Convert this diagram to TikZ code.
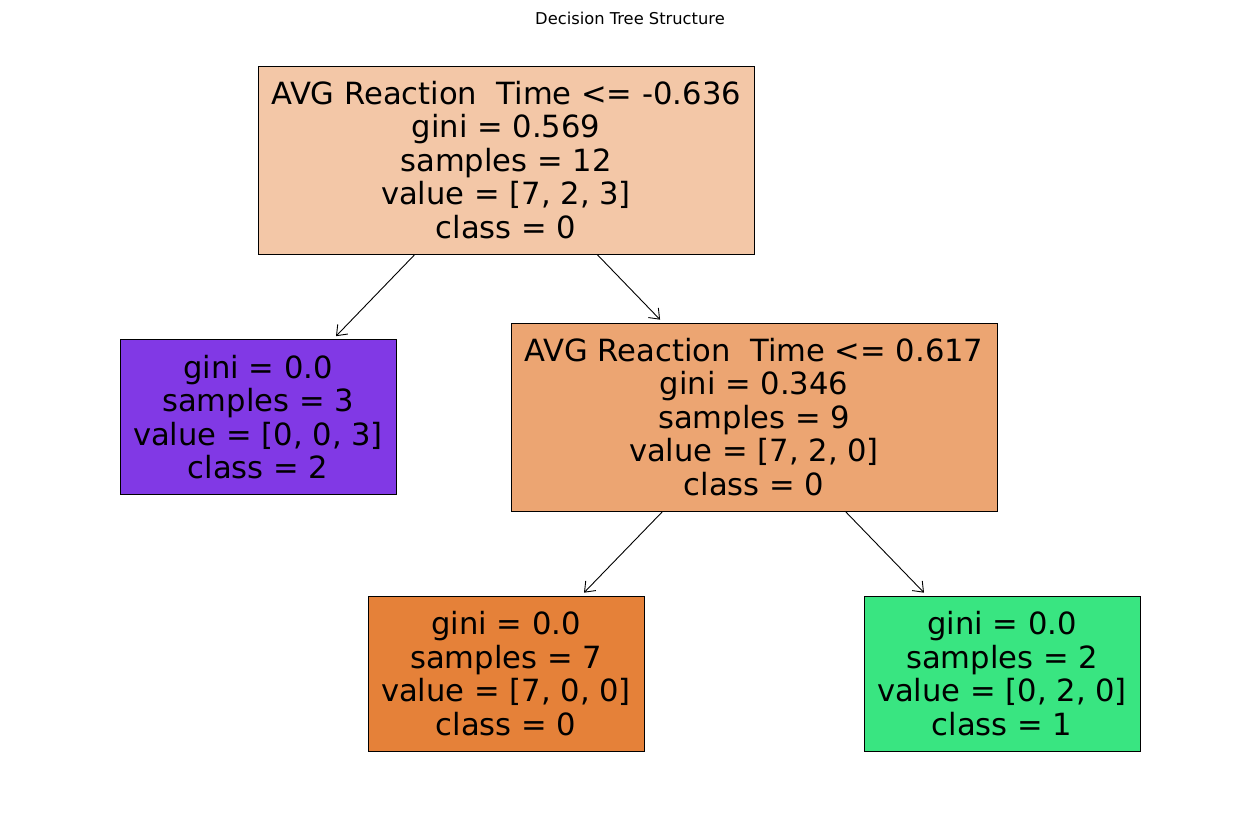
\documentclass[tikz,border=0pt]{standalone}
\usepackage{fontspec}
\setmainfont{DejaVu Sans}
\usetikzlibrary{arrows.meta}
\definecolor{rootc}{RGB}{243,199,167}
\definecolor{midc}{RGB}{236,165,114}
\definecolor{orangec}{RGB}{229,129,57}
\definecolor{greenc}{RGB}{57,229,129}
\definecolor{purplec}{RGB}{129,57,229}
\tikzset{
  treenode/.style={draw=black, line width=0.9pt, inner sep=0pt, align=center,
    font=\fontsize{30.6}{33.5}\selectfont},
  internalbox/.style={treenode, minimum width=496pt, minimum height=188pt},
  leafbox/.style={treenode, minimum width=276pt, minimum height=155pt},
  edge/.style={line width=0.9pt, -{Straight Barb[length=9pt,width=14pt,line width=0.9pt]}, shorten >=4pt},
  titletext/.style={font=\fontsize{16.3}{19}\selectfont}
}
\begin{document}
\begin{tikzpicture}[x=1pt,y=-1pt]
\useasboundingbox (0,0) rectangle (1260,812);
\fill[white] (0,0) rectangle (1260,812);
\node[titletext] (title) at (630,18) {Decision Tree Structure};
\node[internalbox, fill=rootc] (root) at (506,160)
  {AVG Reaction\ \ Time <= -0.636\\gini = 0.569\\samples = 12\\value = [7, 2, 3]\\class = 0};
\node[leafbox, fill=purplec] (left) at (258,417)
  {gini = 0.0\\samples = 3\\value = [0, 0, 3]\\class = 2};
\node[internalbox, minimum width=486pt, fill=midc] (mid) at (754,417)
  {AVG Reaction\ \ Time <= 0.617\\gini = 0.346\\samples = 9\\value = [7, 2, 0]\\class = 0};
\node[leafbox, fill=orangec] (bl) at (506,673.5)
  {gini = 0.0\\samples = 7\\value = [7, 0, 0]\\class = 0};
\node[leafbox, fill=greenc] (br) at (1002,673.5)
  {gini = 0.0\\samples = 2\\value = [0, 2, 0]\\class = 1};
\draw[edge] (root) -- (left);
\draw[edge] (root) -- (mid);
\draw[edge] (mid) -- (bl);
\draw[edge] (mid) -- (br);
\end{tikzpicture}
\end{document}
